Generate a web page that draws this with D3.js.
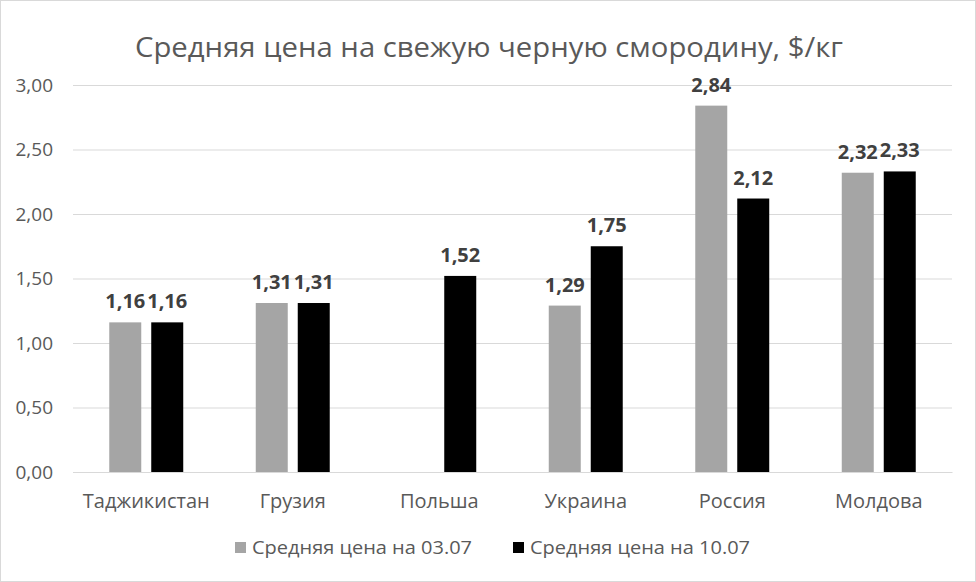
<!DOCTYPE html>
<html>
<head>
<meta charset="utf-8">
<script src="https://cdn.jsdelivr.net/npm/d3@7"></script>
<style>
  html, body { margin: 0; padding: 0; background: #fff; }
  svg { display: block; font-family: "Open Sans", "Noto Sans", sans-serif; }
</style>
</head>
<body>
<svg id="chart" width="976" height="582"></svg>
<script>
const title = "Средняя цена на свежую черную смородину, $/кг";
const categories = ["Таджикистан", "Грузия", "Польша", "Украина", "Россия", "Молдова"];
const seriesNames = ["Средняя цена на 03.07", "Средняя цена на 10.07"];
const series0307 = [1.16, 1.31, null, 1.29, 2.84, 2.32];
const series1007 = [1.16, 1.31, 1.52, 1.75, 2.12, 2.33];
const seriesColors = ["#a5a5a5", "#000000"];
const yTicks = [0, 0.5, 1.0, 1.5, 2.0, 2.5, 3.0];

const W = 976, H = 582;
const margin = { left: 73, right: 24, top: 85, bottom: 110 };
const svg = d3.select("#chart");

svg.append("rect").attr("x", 0.5).attr("y", 0.5).attr("width", W - 1).attr("height", H - 1)
  .attr("fill", "#fff").attr("stroke", "#d9d9d9").attr("stroke-width", 1);

const x0 = d3.scaleBand().domain(categories)
  .range([margin.left, W - margin.right])
  .paddingInner(0.495).paddingOuter(0.2475);
const x1 = d3.scaleBand().domain([0, 1]).range([0, x0.bandwidth()]).paddingInner(0.238).paddingOuter(0);
const y = d3.scaleLinear().domain([0, 3]).range([H - margin.bottom, margin.top]);

const fmt = v => d3.format(".2f")(v).replace(".", ",");

// gridlines
const grid = svg.append("g")
  .call(d3.axisLeft(y).tickValues(yTicks).tickSize(-(W - margin.left - margin.right)).tickFormat(""))
  .attr("transform", `translate(${margin.left},0)`);
grid.select(".domain").remove();
grid.selectAll(".tick line").attr("stroke", "#d9d9d9").attr("stroke-width", 1);

// y tick labels
const yAxis = svg.append("g").attr("transform", `translate(${margin.left - 20},0)`)
  .call(d3.axisLeft(y).tickValues(yTicks).tickSize(0).tickPadding(0).tickFormat(fmt));
yAxis.select(".domain").remove();
yAxis.selectAll("text").attr("font-size", 19).attr("fill", "#595959")
  .attr("font-family", "'Open Sans', sans-serif");

// x axis
const xAxis = svg.append("g").attr("transform", `translate(0,${y(0)})`)
  .call(d3.axisBottom(x0).tickSize(0).tickPadding(22));
xAxis.select(".domain").attr("stroke", "#d9d9d9");
xAxis.selectAll("text").attr("font-size", 20).attr("fill", "#595959")
  .attr("font-family", "'Open Sans', sans-serif")
  .attr("dy", "0.71em");

// bars
const data = categories.map((c, i) => ({ c, vals: [series0307[i], series1007[i]] }));
const groups = svg.append("g").selectAll("g").data(data).join("g")
  .attr("transform", d => `translate(${x0(d.c)},0)`);

groups.selectAll("rect").data(d => d.vals.map((v, s) => ({ v, s })).filter(e => e.v != null))
  .join("rect")
  .attr("x", e => x1(e.s)).attr("width", x1.bandwidth())
  .attr("y", e => y(e.v)).attr("height", e => y(0) - y(e.v))
  .attr("fill", e => seriesColors[e.s]);

groups.selectAll("text.lbl").data(d => d.vals.map((v, s) => ({ v, s })).filter(e => e.v != null))
  .join("text").attr("class", "lbl")
  .attr("x", e => x1(e.s) + x1.bandwidth() / 2)
  .attr("y", e => y(e.v) - 14)
  .attr("text-anchor", "middle")
  .attr("font-size", 20).attr("font-weight", "bold").attr("fill", "#404040")
  .text(e => fmt(e.v));

// title
svg.append("text").attr("x", 489).attr("y", 57).attr("text-anchor", "middle")
  .attr("font-size", 27).attr("fill", "#595959")
  .attr("textLength", 708).attr("lengthAdjust", "spacingAndGlyphs")
  .text(title);

// legend
const legendItems = [
  { name: seriesNames[0], color: seriesColors[0], x: 235 },
  { name: seriesNames[1], color: seriesColors[1], x: 513 }
];
const lg = svg.append("g").selectAll("g").data(legendItems).join("g")
  .attr("transform", d => `translate(${d.x},0)`);
lg.append("rect").attr("x", 0).attr("y", 542).attr("width", 11).attr("height", 11)
  .attr("fill", d => d.color);
lg.append("text").attr("x", 17).attr("y", 554).attr("font-size", 19).attr("fill", "#595959")
  .attr("textLength", 220).attr("lengthAdjust", "spacingAndGlyphs")
  .text(d => d.name);
</script>
</body>
</html>
